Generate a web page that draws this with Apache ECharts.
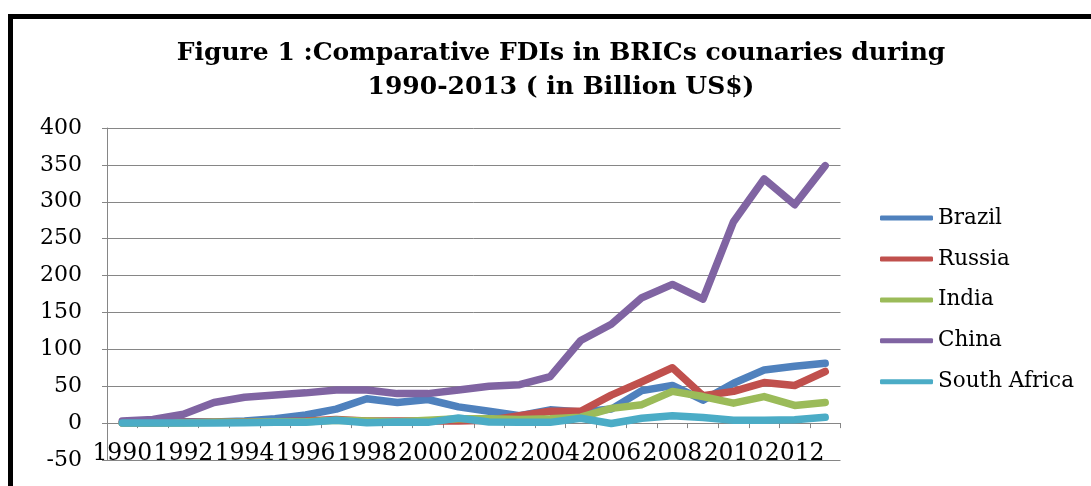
<!DOCTYPE html>
<html>
<head>
<meta charset="utf-8">
<script src="https://cdn.jsdelivr.net/npm/echarts@6/dist/echarts.min.js"></script>
<style>
html,body{margin:0;padding:0;background:#fff;}
#chart{width:1091px;height:486px;}
</style>
</head>
<body>
<div id="chart"></div>
<script>
const years = ['1990','1991','1992','1993','1994','1995','1996','1997','1998','1999','2000','2001','2002','2003','2004','2005','2006','2007','2008','2009','2010','2011','2012','2013'];
const brazil = [1, 1.5, 2, 1.5, 3, 6, 11, 19, 33, 28, 32, 22, 16, 10, 18, 15, 19, 44, 51, 31, 54, 72, 77, 81];
const russia = [0, 0, 1, 1, 1, 2, 3, 5, 3, 3, 3, 3, 4, 10, 16, 16, 38, 56, 75, 37, 43, 55, 51, 70];
const india = [0, 0, 0, 1, 1, 2, 2, 4, 3, 2, 4, 6, 6, 5, 6, 8, 20, 25, 43, 36, 27, 36, 24, 28];
const china = [3, 5, 12, 28, 35, 38, 41, 45, 45, 40, 40, 45, 50, 52, 63, 112, 134, 170, 188, 168, 273, 331, 296, 349];
const southAfrica = [0, 0, 0, 0, 0.5, 1, 1, 4, 0.5, 1.5, 1, 7, 1.5, 1, 1, 6.5, -0.5, 6.5, 10, 7.5, 4, 4, 4.5, 8];
const seriesNames = ['Brazil','Russia','India','China','South Africa'];
const seriesColors = ['#4F81BD','#C0504D','#9BBB59','#8064A2','#4BACC6'];
const titleText = 'Figure 1 :Comparative FDIs in BRICs counaries during\n1990-2013 ( in Billion US$)';

const chart = echarts.init(document.getElementById('chart'), null, {renderer:'canvas'});
const dataSets = [brazil, russia, india, china, southAfrica];
const serif = '"DejaVu Serif", serif';

chart.setOption({
  animation: false,
  backgroundColor: '#fff',
  title: {
    text: titleText,
    left: 556, top: 31, textAlign: 'center',
    textStyle: {fontFamily: serif, fontWeight: 'bold', fontSize: 25, lineHeight: 34, color: '#000'}
  },
  graphic: [
    {type: 'rect', shape: {x: 10.5, y: 16.5, width: 1200, height: 600}, style: {fill: 'none', stroke: '#000', lineWidth: 5}, z: 100}
  ],
  legend: {
    orient: 'vertical', left: 880, top: 207, padding: 0,
    itemWidth: 53, itemHeight: 5, itemGap: 18.95, icon: 'roundRect',
    data: seriesNames,
    textStyle: {fontFamily: serif, fontSize: 21.5, color: '#000', lineHeight: 20}
  },
  grid: {left: 107, right: 250.5, top: 128, bottom: 26, containLabel: false, outerBoundsMode: 'none'},
  xAxis: {
    type: 'category', data: years, boundaryGap: true,
    axisLine: {onZero: true, lineStyle: {color: '#868686', width: 1}},
    axisTick: {show: true, interval: 0, length: 5, lineStyle: {color: '#868686'}},
    axisLabel: {interval: 1, margin: -18, fontFamily: serif, fontSize: 23.5, color: '#000'},
    splitLine: {show: false}
  },
  yAxis: {
    type: 'value', min: -50, max: 400, interval: 50,
    axisLine: {show: true, lineStyle: {color: '#868686', width: 1}},
    axisTick: {show: true, length: 5, lineStyle: {color: '#868686'}},
    axisLabel: {margin: 25, fontFamily: serif, fontSize: 22, color: '#000'},
    splitLine: {show: true, lineStyle: {color: '#868686', width: 1}}
  },
  series: seriesNames.map((n, i) => ({
    name: n, type: 'line', data: dataSets[i],
    symbol: 'none', showSymbol: false,
    lineStyle: {width: 7.5, color: seriesColors[i], cap: 'round', join: 'round'},
    itemStyle: {color: seriesColors[i]}
  }))
});
</script>
</body>
</html>
